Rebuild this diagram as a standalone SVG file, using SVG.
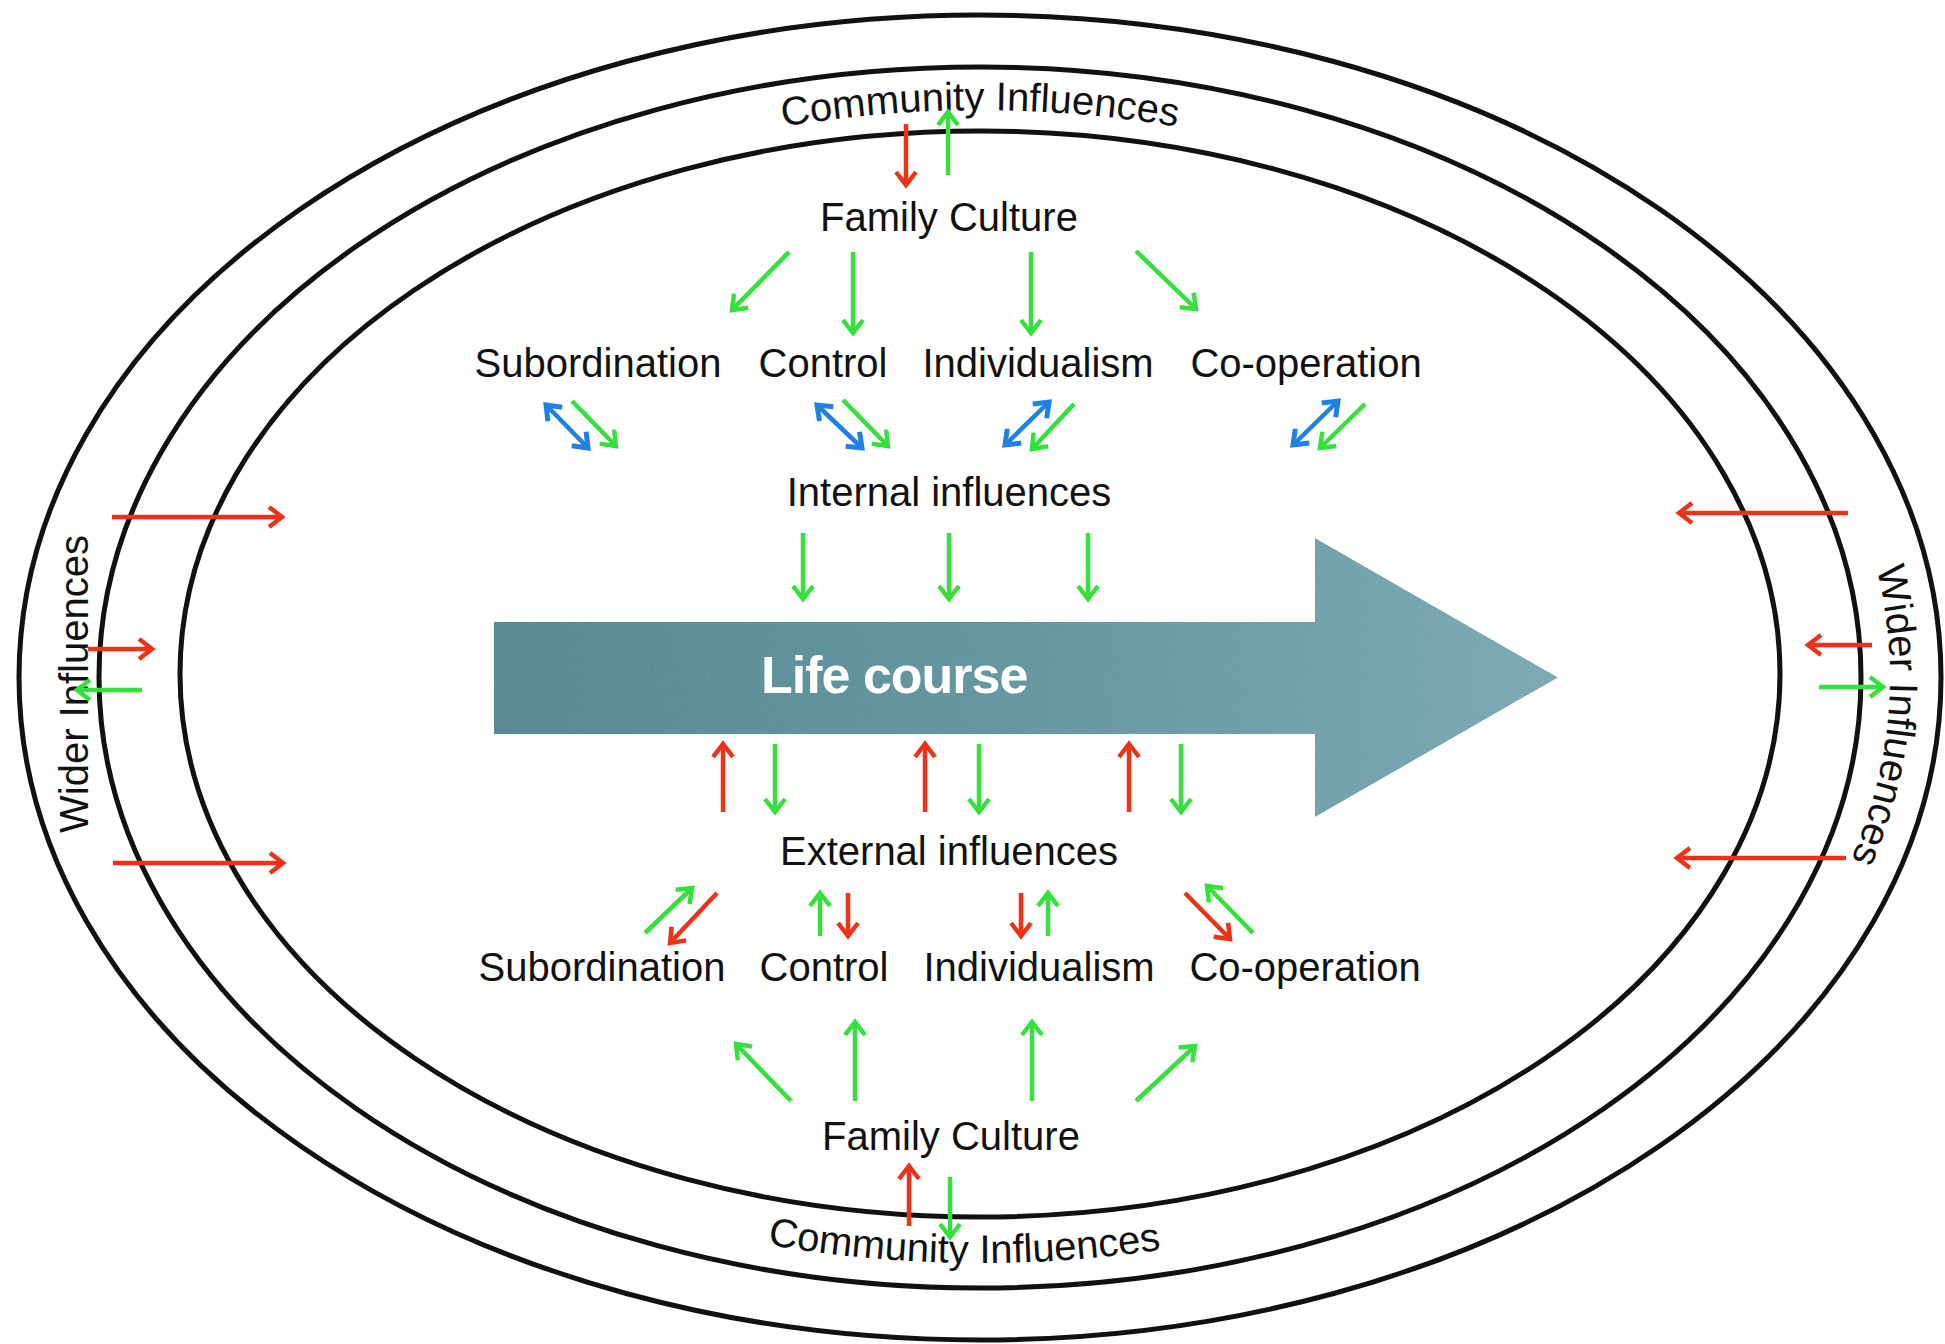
<svg xmlns="http://www.w3.org/2000/svg" width="1945" height="1344" viewBox="0 0 1945 1344">
  <style>
    .ring { fill: none; stroke: #111; stroke-width: 5; }
    .lbl { font-family: "Liberation Sans", Arial, Helvetica, sans-serif; font-size: 40px; fill: #111; }
    .mid { text-anchor: middle; }
    .title { font-family: "Liberation Sans", Arial, Helvetica, sans-serif; font-weight: bold; font-size: 52px; fill: #fff; letter-spacing: -1px; }
    .a { fill: none; stroke-width: 4.5; stroke-linecap: butt; }
    .r { stroke: #ec3219; marker-end: url(#hr); }
    .g { stroke: #35e03c; marker-end: url(#hg); }
    .b { stroke: #1f80e6; marker-start: url(#hb); marker-end: url(#hb); }
  </style>
  <defs>
    <marker id="hr" markerUnits="userSpaceOnUse" orient="auto-start-reverse" markerWidth="40" markerHeight="40" refX="0" refY="0" overflow="visible">
      <path d="M-13,-10 L0,0 L-13,10" fill="none" stroke="#ec3219" stroke-width="4.5"/>
    </marker>
    <marker id="hg" markerUnits="userSpaceOnUse" orient="auto-start-reverse" markerWidth="40" markerHeight="40" refX="0" refY="0" overflow="visible">
      <path d="M-13,-10 L0,0 L-13,10" fill="none" stroke="#35e03c" stroke-width="4.5"/>
    </marker>
    <marker id="hb" markerUnits="userSpaceOnUse" orient="auto-start-reverse" markerWidth="40" markerHeight="40" refX="0" refY="0" overflow="visible">
      <path d="M-13,-10 L0,0 L-13,10" fill="none" stroke="#1f80e6" stroke-width="5"/>
    </marker>
    <linearGradient id="lifeFill" x1="494" y1="0" x2="1558" y2="0" gradientUnits="userSpaceOnUse">
      <stop offset="0" stop-color="#5a8a93"/>
      <stop offset="0.5" stop-color="#6797a1"/>
      <stop offset="1" stop-color="#7eabb5"/>
    </linearGradient>
    <!-- printed grain on the big arrow -->
    <filter id="grain" x="0" y="0" width="100%" height="100%" color-interpolation-filters="sRGB">
      <feTurbulence type="fractalNoise" baseFrequency="0.9" numOctaves="2" seed="7" result="noise"/>
      <feColorMatrix in="noise" type="matrix" values="0.33 0.33 0.33 0 0  0.33 0.33 0.33 0 0  0.33 0.33 0.33 0 0  0 0 0 0 1" result="gray"/>
      <feComposite in="SourceGraphic" in2="gray" operator="arithmetic" k1="0" k2="1" k3="0.14" k4="-0.07" result="mix"/>
      <feComposite in="mix" in2="SourceGraphic" operator="in"/>
    </filter>
    <!-- baselines for the curved ring labels -->
    <path id="arcTop" d="M158,677 A822,567 0 0 1 1802,677"/>
    <path id="arcBottom" d="M128,677 A852,586 0 0 0 1832,677"/>
    <path id="arcRight" d="M980,47 A910,630 0 0 1 980,1307"/>
  </defs>

  <rect width="1945" height="1344" fill="#fff"/>

  <!-- concentric rings -->
  <g id="rings">
    <ellipse class="ring" cx="980" cy="677.5" rx="961" ry="662.5"/>
    <ellipse class="ring" cx="980" cy="677.5" rx="881" ry="610.5"/>
    <ellipse class="ring" cx="980" cy="674" rx="800" ry="543"/>
  </g>

  <!-- ring labels -->
  <g id="community-top">
    <text class="lbl mid"><textPath href="#arcTop" startOffset="50%">Community Influences</textPath></text>
  </g>
  <g id="community-bottom">
    <text class="lbl mid"><textPath href="#arcBottom" startOffset="49.3%">Community Influences</textPath></text>
  </g>
  <g id="wider-left">
    <text class="lbl mid" transform="translate(88,684) rotate(-90)" x="0" y="0">Wider Influences</text>
  </g>
  <g id="wider-right">
    <text class="lbl mid"><textPath href="#arcRight" startOffset="51.6%">Wider Influences</textPath></text>
  </g>

  <!-- central life course arrow -->
  <g id="life-course">
    <path d="M494,622 L1315,622 L1315,538 L1558,677.5 L1315,817 L1315,734 L494,734 Z" fill="url(#lifeFill)" filter="url(#grain)"/>
    <text class="title" x="761" y="693">Life course</text>
  </g>

  <!-- upper half -->
  <g id="family-culture-top"><text class="lbl mid" x="949" y="231">Family Culture</text></g>
  <g id="subordination-top"><text class="lbl mid" x="598" y="377">Subordination</text></g>
  <g id="control-top"><text class="lbl mid" x="823" y="377">Control</text></g>
  <g id="individualism-top"><text class="lbl mid" x="1038" y="377">Individualism</text></g>
  <g id="cooperation-top"><text class="lbl mid" x="1306" y="377">Co-operation</text></g>
  <g id="internal-influences"><text class="lbl mid" x="949" y="506">Internal influences</text></g>

  <!-- lower half -->
  <g id="external-influences"><text class="lbl mid" x="949" y="865">External influences</text></g>
  <g id="subordination-bottom"><text class="lbl mid" x="602" y="981">Subordination</text></g>
  <g id="control-bottom"><text class="lbl mid" x="824" y="981">Control</text></g>
  <g id="individualism-bottom"><text class="lbl mid" x="1039" y="981">Individualism</text></g>
  <g id="cooperation-bottom"><text class="lbl mid" x="1305" y="981">Co-operation</text></g>
  <g id="family-culture-bottom"><text class="lbl mid" x="951" y="1150">Family Culture</text></g>

  <!-- influence arrows -->
  <g id="connectors">
    <!-- community <-> family culture, top -->
    <line class="a r" x1="906" y1="124" x2="906" y2="185"/>
    <line class="a g" x1="948" y1="175" x2="948" y2="112"/>

    <!-- family culture -> values, top -->
    <line class="a g" x1="789" y1="252" x2="732" y2="310"/>
    <line class="a g" x1="853" y1="252" x2="853" y2="333"/>
    <line class="a g" x1="1031" y1="252" x2="1031" y2="333"/>
    <line class="a g" x1="1136" y1="251" x2="1196" y2="309"/>

    <!-- values <-> internal influences -->
    <line class="a b" x1="546" y1="405" x2="588" y2="448"/>
    <line class="a g" x1="572" y1="401" x2="616" y2="446"/>
    <line class="a b" x1="817" y1="405" x2="862" y2="448"/>
    <line class="a g" x1="843" y1="400" x2="888" y2="446"/>
    <line class="a b" x1="1049" y1="402" x2="1005" y2="445"/>
    <line class="a g" x1="1074" y1="404" x2="1032" y2="449"/>
    <line class="a b" x1="1338" y1="401" x2="1293" y2="445"/>
    <line class="a g" x1="1365" y1="404" x2="1320" y2="448"/>

    <!-- internal influences -> life course -->
    <line class="a g" x1="803" y1="533" x2="803" y2="599"/>
    <line class="a g" x1="949" y1="533" x2="949" y2="599"/>
    <line class="a g" x1="1088" y1="533" x2="1088" y2="599"/>

    <!-- life course <-> external influences -->
    <line class="a r" x1="723" y1="812" x2="723" y2="744"/>
    <line class="a g" x1="775" y1="744" x2="775" y2="812"/>
    <line class="a r" x1="925" y1="812" x2="925" y2="744"/>
    <line class="a g" x1="979" y1="744" x2="979" y2="812"/>
    <line class="a r" x1="1129" y1="812" x2="1129" y2="744"/>
    <line class="a g" x1="1181" y1="744" x2="1181" y2="812"/>

    <!-- external influences <-> values -->
    <line class="a g" x1="645" y1="933" x2="692" y2="888"/>
    <line class="a r" x1="717" y1="893" x2="670" y2="943"/>
    <line class="a g" x1="820" y1="936" x2="820" y2="893"/>
    <line class="a r" x1="848" y1="893" x2="848" y2="936"/>
    <line class="a r" x1="1021" y1="893" x2="1021" y2="936"/>
    <line class="a g" x1="1048" y1="936" x2="1048" y2="893"/>
    <line class="a r" x1="1185" y1="893" x2="1230" y2="939"/>
    <line class="a g" x1="1253" y1="933" x2="1207" y2="886"/>

    <!-- family culture -> values, bottom -->
    <line class="a g" x1="791" y1="1101" x2="736" y2="1044"/>
    <line class="a g" x1="855" y1="1101" x2="855" y2="1022"/>
    <line class="a g" x1="1032" y1="1101" x2="1032" y2="1022"/>
    <line class="a g" x1="1136" y1="1101" x2="1195" y2="1046"/>

    <!-- community <-> family culture, bottom -->
    <line class="a r" x1="909" y1="1226" x2="909" y2="1166"/>
    <line class="a g" x1="950" y1="1177" x2="950" y2="1237"/>

    <!-- wider influences, left -->
    <line class="a r" x1="112" y1="517" x2="282" y2="517"/>
    <line class="a r" x1="88" y1="649" x2="152" y2="649"/>
    <line class="a g" x1="142" y1="690" x2="77" y2="690"/>
    <line class="a r" x1="113" y1="863" x2="283" y2="863"/>

    <!-- wider influences, right -->
    <line class="a r" x1="1848" y1="513" x2="1679" y2="513"/>
    <line class="a r" x1="1872" y1="645" x2="1808" y2="645"/>
    <line class="a g" x1="1819" y1="687" x2="1883" y2="687"/>
    <line class="a r" x1="1846" y1="858" x2="1677" y2="858"/>
  </g>
</svg>
